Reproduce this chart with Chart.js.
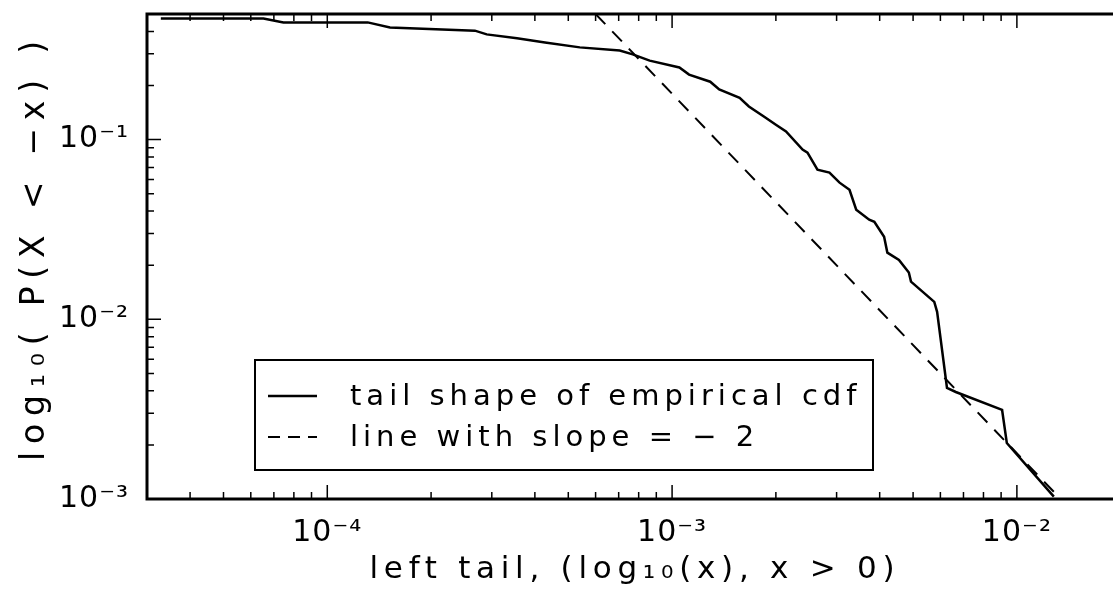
<!DOCTYPE html>
<html>
<head>
<meta charset="utf-8">
<script src="https://cdn.jsdelivr.net/npm/chart.js@4.4.1/dist/chart.umd.min.js"></script>
<style>
  html, body { margin: 0; padding: 0; background: #fff; }
  #wrap { width: 1113px; height: 598px; }
</style>
</head>
<body>
<div id="wrap"><canvas id="myChart" width="1113" height="598"></canvas></div>
<script>
// empirical left tail
const tailX = [3.29e-5, 6.53e-5, 7.46e-5, 1.31e-4, 1.52e-4, 2.68e-4, 2.90e-4, 3.55e-4, 4.28e-4, 5.40e-4,
  7.05e-4, 7.69e-4, 8.61e-4, 1.05e-3, 1.12e-3, 1.29e-3, 1.37e-3, 1.57e-3, 1.67e-3, 1.85e-3,
  2.00e-3, 2.14e-3, 2.39e-3, 2.47e-3, 2.64e-3, 2.86e-3, 3.06e-3, 3.27e-3, 3.42e-3, 3.73e-3,
  3.86e-3, 4.12e-3, 4.21e-3, 4.55e-3, 4.86e-3, 4.93e-3, 5.76e-3, 5.87e-3, 6.27e-3, 6.65e-3,
  9.06e-3, 9.35e-3, 1.28e-2];
const tailY = [0.472, 0.472, 0.449, 0.449, 0.421, 0.404, 0.385, 0.366, 0.347, 0.326,
  0.313, 0.298, 0.275, 0.252, 0.230, 0.210, 0.190, 0.171, 0.153, 0.134,
  0.121, 0.111, 0.0880, 0.0847, 0.0681, 0.0655, 0.0576, 0.0526, 0.0407, 0.0358,
  0.0349, 0.0288, 0.0235, 0.0214, 0.0182, 0.0162, 0.0125, 0.0110, 0.00415, 0.00394,
  0.00313, 0.00205, 0.00103];

// reference line, slope -2 (end points)
const slopeX = [6.0e-4, 1.34e-2];
const slopeY = [0.5, 0.001];

const seriesNames = ['tail shape of empirical cdf', 'line with slope = \u2212 2'];

const xTickVals = [1e-4, 1e-3, 1e-2];
const xTickLabels = ['10\u207B\u2074', '10\u207B\u00B3', '10\u207B\u00B2'];
const yTickVals = [1e-3, 1e-2, 1e-1];
const yTickLabels = ['10\u207B\u00B3', '10\u207B\u00B2', '10\u207B\u00B9'];

const xTitle = 'left tail, (log\u2081\u2080(x), x > 0)';
const yTitle = 'log\u2081\u2080( P(X < \u2212x) )';

const FONT = 'DejaVu Sans';

const spacingPlugin = {
  id: 'spacing',
  beforeDraw(chart) { chart.ctx.letterSpacing = '1px'; }
};

// spread a string out to a given length, like the old plotter lettering
function spreadText(ctx, text, len) {
  ctx.letterSpacing = '0px';
  const w = ctx.measureText(text).width;
  const sp = (len - w) / (text.length - 1);
  ctx.letterSpacing = sp + 'px';
  return sp;
}

// frame, inward ticks, axis titles, legend box
const framePlugin = {
  id: 'frame',
  afterDraw(chart) {
    const ctx = chart.ctx;
    const a = chart.chartArea;
    const xs = chart.scales.x, ys = chart.scales.y;
    ctx.save();
    ctx.strokeStyle = '#000';
    ctx.lineWidth = 3;
    ctx.beginPath();
    ctx.moveTo(a.right, a.top);
    ctx.lineTo(a.left, a.top);
    ctx.lineTo(a.left, a.bottom);
    ctx.lineTo(a.right, a.bottom);
    ctx.stroke();

    ctx.lineWidth = 1.5;
    ctx.beginPath();
    for (let e = -6; e <= 1; e++) {
      for (let m = 1; m <= 9; m++) {
        const v = m * Math.pow(10, e);
        const len = m === 1 ? 14 : 7;
        if (v >= xs.min && v <= xs.max) {
          const px = xs.getPixelForValue(v);
          ctx.moveTo(px, a.bottom); ctx.lineTo(px, a.bottom - len);
          ctx.moveTo(px, a.top); ctx.lineTo(px, a.top + len);
        }
        if (v >= ys.min && v <= ys.max) {
          const py = ys.getPixelForValue(v);
          ctx.moveTo(a.left, py); ctx.lineTo(a.left + len, py);
        }
      }
    }
    ctx.stroke();

    // axis titles
    ctx.fillStyle = '#000';
    ctx.textAlign = 'center';
    ctx.textBaseline = 'alphabetic';
    ctx.font = '31px "' + FONT + '"';
    let sp = spreadText(ctx, xTitle, 525);
    ctx.fillText(xTitle, 632 + sp / 2, 578);

    ctx.save();
    ctx.translate(44, 251);
    ctx.rotate(-Math.PI / 2);
    ctx.font = '33px "' + FONT + '"';
    sp = spreadText(ctx, yTitle, 420);
    ctx.fillText(yTitle, sp / 2, 0);
    ctx.restore();

    // legend
    ctx.textAlign = 'left';
    ctx.lineWidth = 2;
    ctx.strokeRect(255, 360, 618, 110);
    ctx.font = '29px "' + FONT + '"';
    ctx.textBaseline = 'middle';
    ctx.letterSpacing = '5px';
    const rows = [396, 437];
    chart.data.datasets.forEach((ds, i) => {
      ctx.beginPath();
      ctx.lineWidth = ds.borderWidth;
      ctx.setLineDash(i === 0 ? [] : [12, 8]);
      ctx.moveTo(268, rows[i]);
      ctx.lineTo(317, rows[i]);
      ctx.stroke();
      ctx.setLineDash([]);
      ctx.fillText(ds.label, 350, rows[i] + 1);
    });
    ctx.restore();
  }
};

new Chart(document.getElementById('myChart'), {
  type: 'line',
  data: {
    datasets: [{
      label: seriesNames[0],
      data: tailX.map((x, i) => ({x: x, y: tailY[i]})),
      borderColor: '#000',
      borderWidth: 2.5,
      pointRadius: 0,
      tension: 0
    }, {
      label: seriesNames[1],
      data: slopeX.map((x, i) => ({x: x, y: slopeY[i]})),
      borderColor: '#000',
      borderWidth: 2,
      borderDash: [14, 10],
      pointRadius: 0,
      tension: 0
    }]
  },
  options: {
    responsive: false,
    animation: false,
    layout: { padding: { top: 14, right: 0, left: 0, bottom: 0 } },
    plugins: {
      legend: { display: false },
      tooltip: { enabled: false }
    },
    scales: {
      x: {
        type: 'logarithmic',
        min: 3.0e-5,
        max: 1.9e-2,
        afterFit: (s) => { s.height = 99; s.paddingLeft = 0; s.paddingRight = 0; },
        afterBuildTicks: (s) => { s.ticks = xTickVals.map(v => ({value: v})); },
        grid: { display: false },
        border: { display: false },
        ticks: {
          autoSkip: false,
          maxRotation: 0,
          color: '#000',
          padding: 8,
          font: { family: FONT, size: 30 },
          callback: (v, i) => xTickLabels[i]
        }
      },
      y: {
        type: 'logarithmic',
        min: 1e-3,
        max: 0.5,
        afterFit: (s) => { s.width = 147; s.paddingTop = 0; s.paddingBottom = 0; },
        afterBuildTicks: (s) => { s.ticks = yTickVals.map(v => ({value: v})); },
        grid: { display: false },
        border: { display: false },
        ticks: {
          autoSkip: false,
          color: '#000',
          padding: 10,
          font: { family: FONT, size: 30 },
          callback: (v, i) => yTickLabels[i]
        }
      }
    }
  },
  plugins: [spacingPlugin, framePlugin]
});
</script>
</body>
</html>
